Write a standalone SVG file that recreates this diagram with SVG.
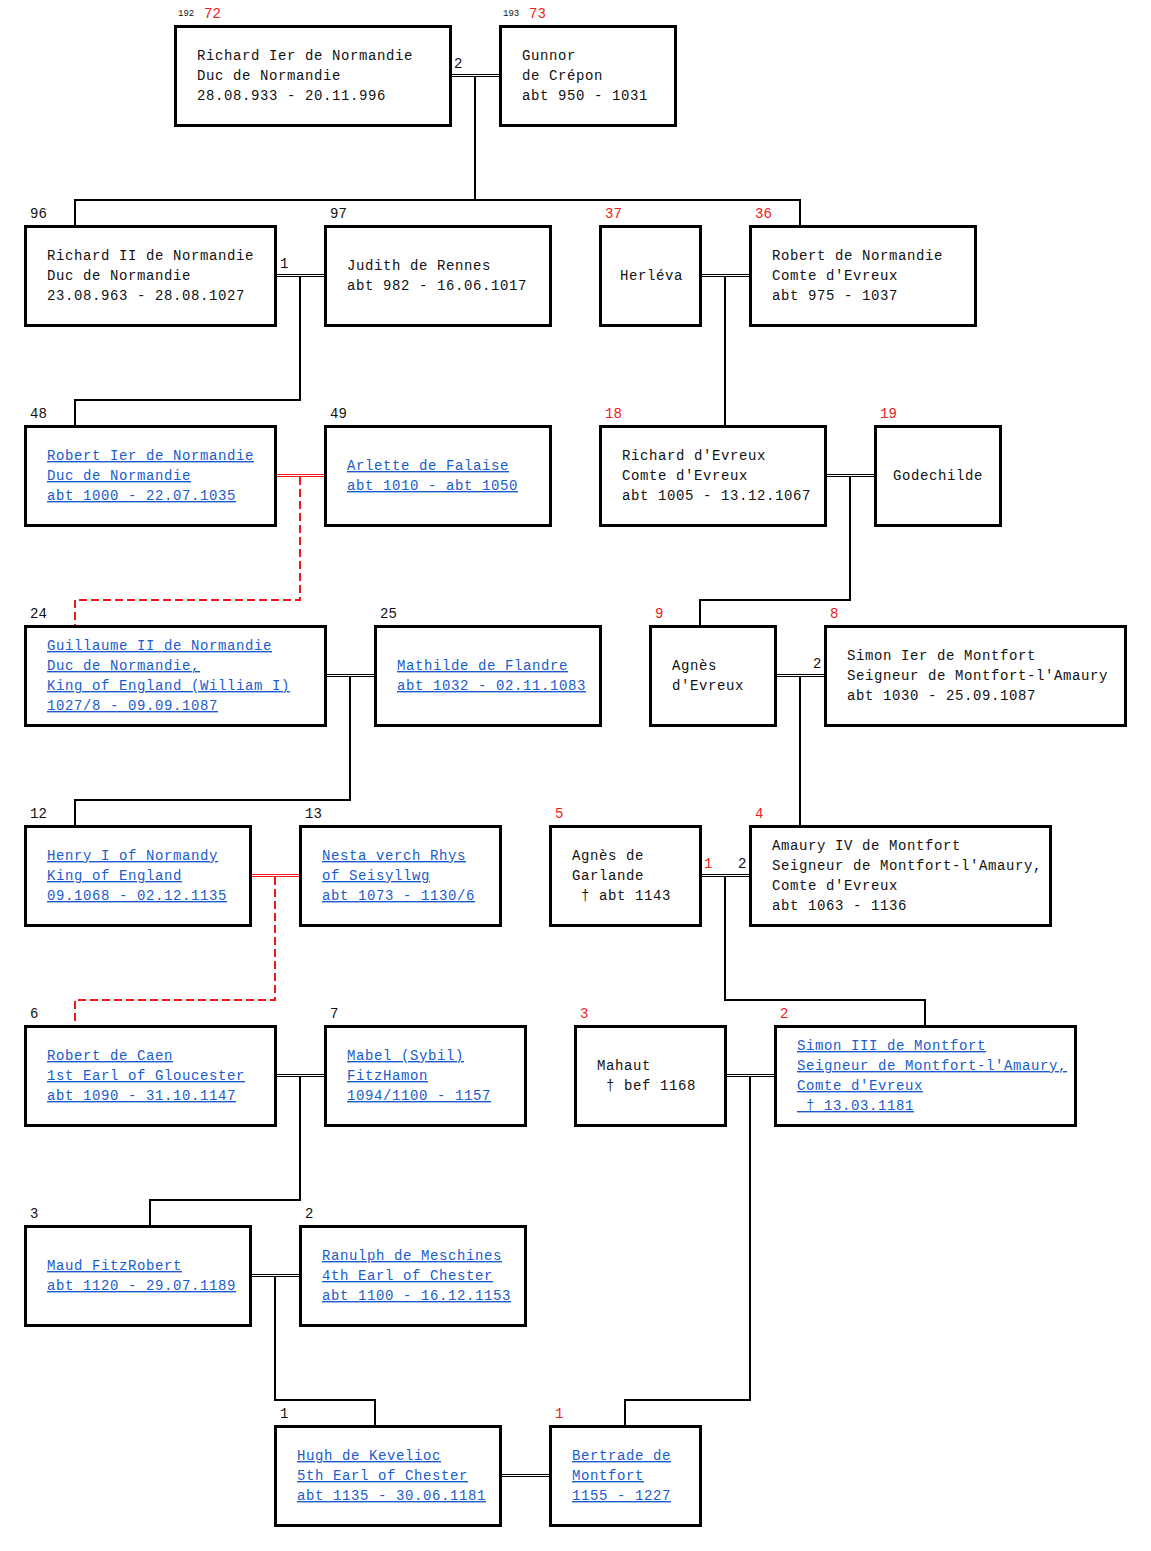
<svg xmlns="http://www.w3.org/2000/svg" width="1151" height="1551" viewBox="0 0 1151 1551">
<style>
.box{fill:#fff;stroke:#000;stroke-width:3}
.t{font-family:"Liberation Mono","Courier New",monospace;font-size:14px;letter-spacing:0.6px;fill:#111}
.lk{fill:#1a5ccc;text-decoration:underline}
.n{font-family:"Liberation Mono","Courier New",monospace;font-size:14px;fill:#111}
.r{fill:#f01818}
.tiny{font-family:"Liberation Mono","Courier New",monospace;font-size:9px;fill:#111}
.dbl{stroke:#000;stroke-width:1;fill:none}
.dblr{stroke:#f01818;stroke-width:1;fill:none}
.ln{stroke:#000;stroke-width:2;fill:none}
.dash{stroke:#f01818;stroke-width:2;fill:none;stroke-dasharray:8 4}
</style>
<rect width="1151" height="1551" fill="#fff"/>
<g id="connectors">
<path class="dbl" d="M452 74.5H500M452 76.5H500"/>
<path class="ln" d="M475 77V200M75 225V200H800V225"/>
<path class="dbl" d="M277 274.5H325M277 276.5H325"/>
<path class="ln" d="M300 277V400H75V425"/>
<path class="dbl" d="M702 274.5H750M702 276.5H750"/>
<path class="ln" d="M725 277V425"/>
<path class="dblr" d="M277 474.5H325M277 476.5H325"/>
<path class="dash" d="M300 477V600H75V625"/>
<path class="dbl" d="M827 474.5H875M827 476.5H875"/>
<path class="ln" d="M850 477V600H700V625"/>
<path class="dbl" d="M327 674.5H375M327 676.5H375"/>
<path class="ln" d="M350 677V800H75V825"/>
<path class="dbl" d="M777 674.5H825M777 676.5H825"/>
<path class="ln" d="M800 677V825"/>
<path class="dblr" d="M252 874.5H300M252 876.5H300"/>
<path class="dash" d="M275 877V1000H75V1025"/>
<path class="dbl" d="M702 874.5H750M702 876.5H750"/>
<path class="ln" d="M725 877V1000H925V1025"/>
<path class="dbl" d="M277 1074.5H325M277 1076.5H325"/>
<path class="ln" d="M300 1077V1200H150V1225"/>
<path class="dbl" d="M727 1074.5H775M727 1076.5H775"/>
<path class="ln" d="M750 1077V1400H625V1425"/>
<path class="dbl" d="M252 1274.5H300M252 1276.5H300"/>
<path class="ln" d="M275 1277V1400H375V1425"/>
<path class="dbl" d="M502 1474.5H550M502 1476.5H550"/>
<text class="n" x="454" y="68">2</text>
<text class="n" x="280" y="268">1</text>
<text class="n" x="813" y="668">2</text>
<text class="n r" x="704" y="868">1</text>
<text class="n" x="738" y="868">2</text>
</g>

<g id="n72">
<text class="tiny" x="178" y="16">192</text><text class="n r" x="204" y="18">72</text>
<rect class="box" x="175.5" y="26.5" width="275" height="99"/>
<text class="t" x="197" y="60">Richard Ier de Normandie</text>
<text class="t" x="197" y="80">Duc de Normandie</text>
<text class="t" x="197" y="100">28.08.933 - 20.11.996</text>
</g>
<g id="n73">
<text class="tiny" x="503" y="16">193</text><text class="n r" x="529" y="18">73</text>
<rect class="box" x="500.5" y="26.5" width="175" height="99"/>
<text class="t" x="522" y="60">Gunnor</text>
<text class="t" x="522" y="80">de Crépon</text>
<text class="t" x="522" y="100">abt 950 - 1031</text>
</g>

<g id="n96">
<text class="n" x="30" y="218">96</text>
<rect class="box" x="25.5" y="226.5" width="250" height="99"/>
<text class="t" x="47" y="260">Richard II de Normandie</text>
<text class="t" x="47" y="280">Duc de Normandie</text>
<text class="t" x="47" y="300">23.08.963 - 28.08.1027</text>
</g>
<g id="n97">
<text class="n" x="330" y="218">97</text>
<rect class="box" x="325.5" y="226.5" width="225" height="99"/>
<text class="t" x="347" y="270">Judith de Rennes</text>
<text class="t" x="347" y="290">abt 982 - 16.06.1017</text>
</g>
<g id="n37">
<text class="n r" x="605" y="218">37</text>
<rect class="box" x="600.5" y="226.5" width="100" height="99"/>
<text class="t" x="620" y="280">Herléva</text>
</g>
<g id="n36">
<text class="n r" x="755" y="218">36</text>
<rect class="box" x="750.5" y="226.5" width="225" height="99"/>
<text class="t" x="772" y="260">Robert de Normandie</text>
<text class="t" x="772" y="280">Comte d'Evreux</text>
<text class="t" x="772" y="300">abt 975 - 1037</text>
</g>

<g id="n48">
<text class="n" x="30" y="418">48</text>
<rect class="box" x="25.5" y="426.5" width="250" height="99"/>
<text class="t lk" x="47" y="460">Robert Ier de Normandie</text>
<text class="t lk" x="47" y="480">Duc de Normandie</text>
<text class="t lk" x="47" y="500">abt 1000 - 22.07.1035</text>
</g>
<g id="n49">
<text class="n" x="330" y="418">49</text>
<rect class="box" x="325.5" y="426.5" width="225" height="99"/>
<text class="t lk" x="347" y="470">Arlette de Falaise</text>
<text class="t lk" x="347" y="490">abt 1010 - abt 1050</text>
</g>
<g id="n18">
<text class="n r" x="605" y="418">18</text>
<rect class="box" x="600.5" y="426.5" width="225" height="99"/>
<text class="t" x="622" y="460">Richard d'Evreux</text>
<text class="t" x="622" y="480">Comte d'Evreux</text>
<text class="t" x="622" y="500">abt 1005 - 13.12.1067</text>
</g>
<g id="n19">
<text class="n r" x="880" y="418">19</text>
<rect class="box" x="875.5" y="426.5" width="125" height="99"/>
<text class="t" x="893" y="480">Godechilde</text>
</g>

<g id="n24">
<text class="n" x="30" y="618">24</text>
<rect class="box" x="25.5" y="626.5" width="300" height="99"/>
<text class="t lk" x="47" y="650">Guillaume II de Normandie</text>
<text class="t lk" x="47" y="670">Duc de Normandie,</text>
<text class="t lk" x="47" y="690">King of England (William I)</text>
<text class="t lk" x="47" y="710">1027/8 - 09.09.1087</text>
</g>
<g id="n25">
<text class="n" x="380" y="618">25</text>
<rect class="box" x="375.5" y="626.5" width="225" height="99"/>
<text class="t lk" x="397" y="670">Mathilde de Flandre</text>
<text class="t lk" x="397" y="690">abt 1032 - 02.11.1083</text>
</g>
<g id="n9">
<text class="n r" x="655" y="618">9</text>
<rect class="box" x="650.5" y="626.5" width="125" height="99"/>
<text class="t" x="672" y="670">Agnès</text>
<text class="t" x="672" y="690">d'Evreux</text>
</g>
<g id="n8">
<text class="n r" x="830" y="618">8</text>
<rect class="box" x="825.5" y="626.5" width="300" height="99"/>
<text class="t" x="847" y="660">Simon Ier de Montfort</text>
<text class="t" x="847" y="680">Seigneur de Montfort-l'Amaury</text>
<text class="t" x="847" y="700">abt 1030 - 25.09.1087</text>
</g>

<g id="n12">
<text class="n" x="30" y="818">12</text>
<rect class="box" x="25.5" y="826.5" width="225" height="99"/>
<text class="t lk" x="47" y="860">Henry I of Normandy</text>
<text class="t lk" x="47" y="880">King of England</text>
<text class="t lk" x="47" y="900">09.1068 - 02.12.1135</text>
</g>
<g id="n13">
<text class="n" x="305" y="818">13</text>
<rect class="box" x="300.5" y="826.5" width="200" height="99"/>
<text class="t lk" x="322" y="860">Nesta verch Rhys</text>
<text class="t lk" x="322" y="880">of Seisyllwg</text>
<text class="t lk" x="322" y="900">abt 1073 - 1130/6</text>
</g>
<g id="n5">
<text class="n r" x="555" y="818">5</text>
<rect class="box" x="550.5" y="826.5" width="150" height="99"/>
<text class="t" x="572" y="860">Agnès de</text>
<text class="t" x="572" y="880">Garlande</text>
<text class="t" x="572" y="900" xml:space="preserve" style="white-space:pre"> † abt 1143</text>
</g>
<g id="n4">
<text class="n r" x="755" y="818">4</text>
<rect class="box" x="750.5" y="826.5" width="300" height="99"/>
<text class="t" x="772" y="850">Amaury IV de Montfort</text>
<text class="t" x="772" y="870">Seigneur de Montfort-l'Amaury,</text>
<text class="t" x="772" y="890">Comte d'Evreux</text>
<text class="t" x="772" y="910">abt 1063 - 1136</text>
</g>

<g id="n6">
<text class="n" x="30" y="1018">6</text>
<rect class="box" x="25.5" y="1026.5" width="250" height="99"/>
<text class="t lk" x="47" y="1060">Robert de Caen</text>
<text class="t lk" x="47" y="1080">1st Earl of Gloucester</text>
<text class="t lk" x="47" y="1100">abt 1090 - 31.10.1147</text>
</g>
<g id="n7">
<text class="n" x="330" y="1018">7</text>
<rect class="box" x="325.5" y="1026.5" width="200" height="99"/>
<text class="t lk" x="347" y="1060">Mabel (Sybil)</text>
<text class="t lk" x="347" y="1080">FitzHamon</text>
<text class="t lk" x="347" y="1100">1094/1100 - 1157</text>
</g>
<g id="n3m">
<text class="n r" x="580" y="1018">3</text>
<rect class="box" x="575.5" y="1026.5" width="150" height="99"/>
<text class="t" x="597" y="1070">Mahaut</text>
<text class="t" x="597" y="1090" xml:space="preserve" style="white-space:pre"> † bef 1168</text>
</g>
<g id="n2s">
<text class="n r" x="780" y="1018">2</text>
<rect class="box" x="775.5" y="1026.5" width="300" height="99"/>
<text class="t lk" x="797" y="1050">Simon III de Montfort</text>
<text class="t lk" x="797" y="1070">Seigneur de Montfort-l'Amaury,</text>
<text class="t lk" x="797" y="1090">Comte d'Evreux</text>
<text class="t lk" x="797" y="1110" xml:space="preserve" style="white-space:pre"> † 13.03.1181</text>
</g>

<g id="n3">
<text class="n" x="30" y="1218">3</text>
<rect class="box" x="25.5" y="1226.5" width="225" height="99"/>
<text class="t lk" x="47" y="1270">Maud FitzRobert</text>
<text class="t lk" x="47" y="1290">abt 1120 - 29.07.1189</text>
</g>
<g id="n2">
<text class="n" x="305" y="1218">2</text>
<rect class="box" x="300.5" y="1226.5" width="225" height="99"/>
<text class="t lk" x="322" y="1260">Ranulph de Meschines</text>
<text class="t lk" x="322" y="1280">4th Earl of Chester</text>
<text class="t lk" x="322" y="1300">abt 1100 - 16.12.1153</text>
</g>

<g id="n1">
<text class="n" x="280" y="1418">1</text>
<rect class="box" x="275.5" y="1426.5" width="225" height="99"/>
<text class="t lk" x="297" y="1460">Hugh de Kevelioc</text>
<text class="t lk" x="297" y="1480">5th Earl of Chester</text>
<text class="t lk" x="297" y="1500">abt 1135 - 30.06.1181</text>
</g>
<g id="n1b">
<text class="n r" x="555" y="1418">1</text>
<rect class="box" x="550.5" y="1426.5" width="150" height="99"/>
<text class="t lk" x="572" y="1460">Bertrade de</text>
<text class="t lk" x="572" y="1480">Montfort</text>
<text class="t lk" x="572" y="1500">1155 - 1227</text>
</g>
</svg>
